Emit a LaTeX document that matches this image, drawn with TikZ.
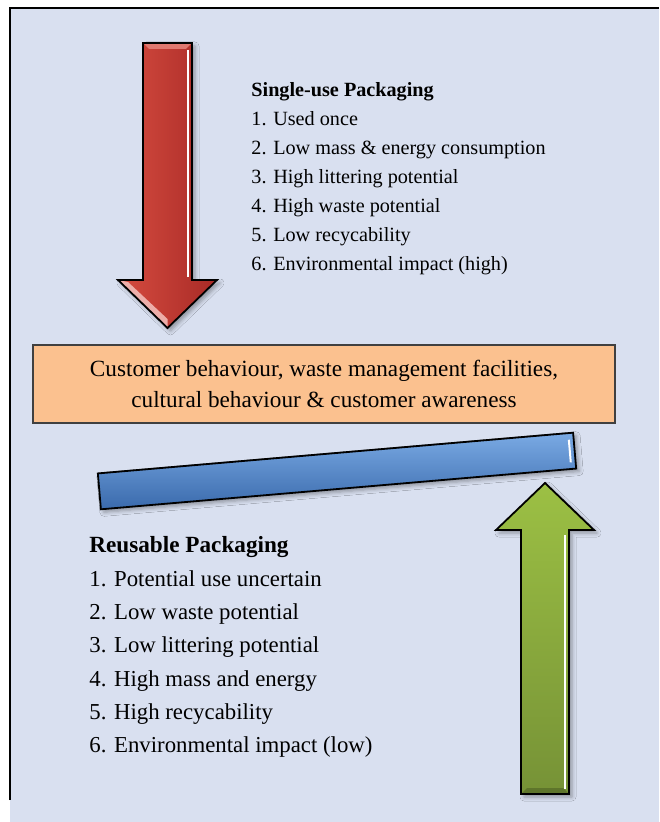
\documentclass[tikz,border=0pt]{standalone}
\usepackage{fontspec}
\setmainfont{Liberation Serif}
\usetikzlibrary{positioning,calc,shadows.blur}

\definecolor{panel}{RGB}{217,224,240}
\definecolor{peach}{RGB}{251,193,143}
\definecolor{redL}{RGB}{214,76,64}
\definecolor{redD}{RGB}{168,42,38}
\definecolor{greenL}{RGB}{156,192,68}
\definecolor{greenD}{RGB}{118,146,54}
\definecolor{blueL}{RGB}{122,170,228}
\definecolor{blueM}{RGB}{80,134,200}
\definecolor{blueD}{RGB}{58,106,172}

\begin{document}
\begin{tikzpicture}%
		[x=0.5pt, y=-0.5pt,
		on grid,
		raised/.style={blur shadow={shadow xshift=1.5pt, shadow yshift=-1.5pt, shadow opacity=35, shadow blur radius=2pt}},
		rim/.style={draw=black, line width=0.9pt, line join=miter}
		]
		\tikzstyle{single}=[anchor=west, inner sep=0pt, text height=7pt, text depth=2pt, font=\fontsize{10.1pt}{12pt}\selectfont]
		\tikzstyle{singlehead}=[single, font=\fontsize{10.1pt}{12pt}\selectfont\bfseries]
		\tikzstyle{reuse}=[anchor=west, inner sep=0pt, text height=8pt, text depth=2.3pt, font=\fontsize{11.4pt}{13pt}\selectfont]
		\tikzstyle{reusehead}=[reuse, font=\fontsize{11.6pt}{13pt}\selectfont\bfseries]
		
		% page and frame
		\useasboundingbox (0,0) rectangle (659,822);
		\fill[white] (0,0) rectangle (659,822);
		\fill[panel] (10,8) rectangle (659,822);
		\draw[line width=1pt] (10,800) -- (10,8) -- (659,8);
		
		% red arrow, pointing down
		\path[raised, left color=redL, right color=redD]
		(143,43) -- (192,43) -- (192,280) -- (217,280) -- (167.5,328) -- (118,280) -- (143,280) -- cycle;
		\fill[redL!75!white] (143,43) -- (192,43) -- (186,49) -- (149,49) -- cycle;
		\fill[redL!45!white] (118,280) -- (128,282) -- (167.5,319) -- (167.5,328) -- cycle;
		\draw[white, line width=1pt] (188,50) -- (188,277);
		\draw[rim] (143,43) -- (192,43) -- (192,280) -- (217,280) -- (167.5,328) -- (118,280) -- (143,280) -- cycle;
		
		% green arrow, pointing up
		\path[raised, top color=greenL, bottom color=greenD]
		(521,794) -- (569,794) -- (569,530) -- (594,530) -- (545,483) -- (496,530) -- (521,530) -- cycle;
		\fill[greenD!80!black] (521,794) -- (569,794) -- (563,788) -- (527,788) -- cycle;
		\draw[white, line width=1pt] (565,535) -- (565,789);
		\draw[rim] (521,794) -- (569,794) -- (569,530) -- (594,530) -- (545,483) -- (496,530) -- (521,530) -- cycle;
		
		% the lever lying on the green arrow
		\node[raised, rim, rotate=4.9, inner sep=0pt, minimum width=238.5pt, minimum height=18pt,
		top color=blueL, middle color=blueM, bottom color=blueD] (lever) at (337,471) {};
		\draw[white, line width=1pt] ($(lever.north east)!0.012!(lever.north west)!0.2!($(lever.south east)!0.012!(lever.south west)$)$)
		-- ($(lever.north east)!0.012!(lever.north west)!0.8!($(lever.south east)!0.012!(lever.south west)$)$);
		
		% factors in between
		\node[draw=black!75, line width=0.6pt, fill=peach, minimum width=291pt, minimum height=39pt,
		inner sep=0pt, align=center, font=\fontsize{11.6pt}{15.5pt}\selectfont] (factors) at (324,384)
		{Customer behaviour, waste management facilities,\\ cultural behaviour \& customer awareness};
		
		% single-use list
		\node[singlehead] (s0) at (251,92) {Single-use Packaging};
		\node (s1) [below=14.5pt of s0.west, single] {1. Used once};
		\node (s2) [below=14.5pt of s1.west, single] {2. Low mass \& energy consumption};
		\node (s3) [below=14.5pt of s2.west, single] {3. High littering potential};
		\node (s4) [below=14.5pt of s3.west, single] {4. High waste potential};
		\node (s5) [below=14.5pt of s4.west, single] {5. Low recycability};
		\node (s6) [below=14.5pt of s5.west, single] {6. Environmental impact (high)};
		
		% reusable list
		\node[reusehead] (r0) at (89,547) {Reusable Packaging};
		\node (r1) [below=16.67pt of r0.west, reuse] {1. Potential use uncertain};
		\node (r2) [below=16.67pt of r1.west, reuse] {2. Low waste potential};
		\node (r3) [below=16.67pt of r2.west, reuse] {3. Low littering potential};
		\node (r4) [below=16.67pt of r3.west, reuse] {4. High mass and energy};
		\node (r5) [below=16.67pt of r4.west, reuse] {5. High recycability};
		\node (r6) [below=16.67pt of r5.west, reuse] {6. Environmental impact (low)};
\end{tikzpicture}
\end{document}
